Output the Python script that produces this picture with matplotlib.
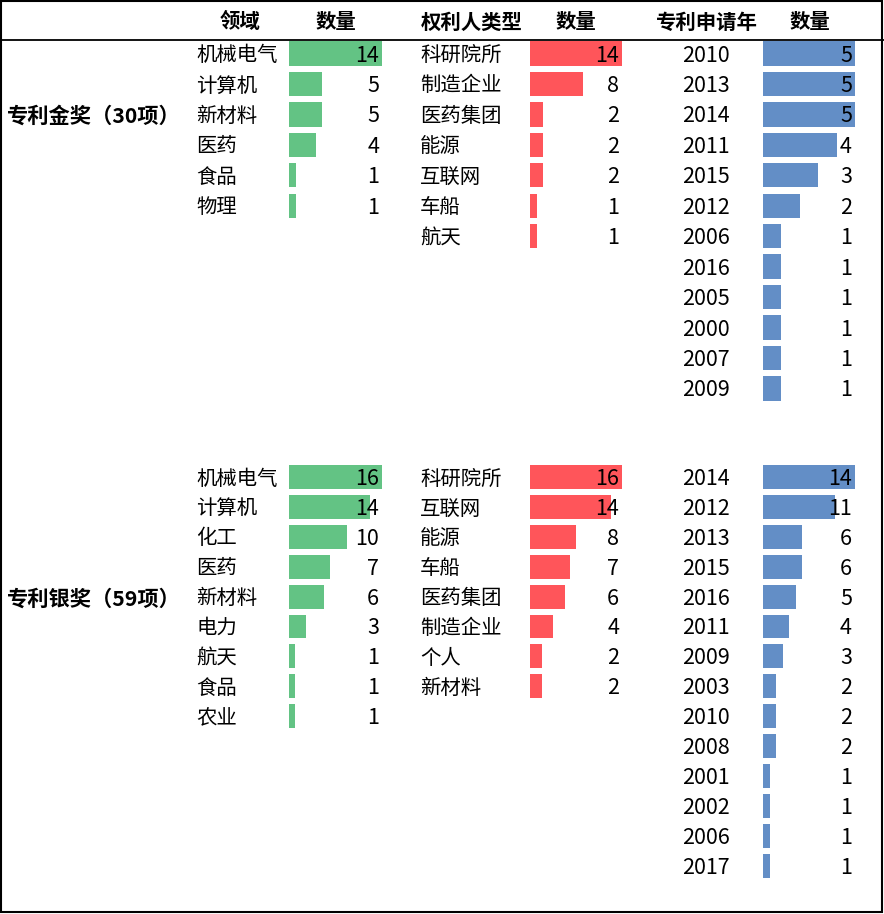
import matplotlib
matplotlib.use("Agg")
import matplotlib.pyplot as plt
from matplotlib.patches import Rectangle

plt.rcParams['font.family'] = ['Noto Sans CJK SC', 'DejaVu Sans']

# headers
headers = ["领域", "数量", "权利人类型", "数量", "专利申请年", "数量"]

# 专利金奖
gold_title = "专利金奖（30项）"
gold_field = ["机械电气", "计算机", "新材料", "医药", "食品", "物理"]
gold_field_n = [14, 5, 5, 4, 1, 1]
gold_owner = ["科研院所", "制造企业", "医药集团", "能源", "互联网", "车船", "航天"]
gold_owner_n = [14, 8, 2, 2, 2, 1, 1]
gold_year = ["2010", "2013", "2014", "2011", "2015", "2012", "2006", "2016", "2005", "2000", "2007", "2009"]
gold_year_n = [5, 5, 5, 4, 3, 2, 1, 1, 1, 1, 1, 1]

# 专利银奖
silver_title = "专利银奖（59项）"
silver_field = ["机械电气", "计算机", "化工", "医药", "新材料", "电力", "航天", "食品", "农业"]
silver_field_n = [16, 14, 10, 7, 6, 3, 1, 1, 1]
silver_owner = ["科研院所", "互联网", "能源", "车船", "医药集团", "制造企业", "个人", "新材料"]
silver_owner_n = [16, 14, 8, 7, 6, 4, 2, 2]
silver_year = ["2014", "2012", "2013", "2015", "2016", "2011", "2009", "2003", "2010", "2008", "2001", "2002", "2006", "2017"]
silver_year_n = [14, 11, 6, 6, 5, 4, 3, 2, 2, 2, 1, 1, 1, 1]

GREEN = "#63C384"
RED = "#FF555A"
BLUE = "#638EC6"

W, H = 884, 914
FS = 14.7      # chinese labels / headers
FS_NUM = 15.5  # digits
DY = 2         # text nudge downwards (px)

fig = plt.figure(figsize=(W / 100, H / 100), dpi=100)
bg = fig.add_axes([0, 0, 1, 1])
bg.set_xlim(0, W)
bg.set_ylim(H, 0)
bg.axis("off")

# frame and header line
bg.add_patch(Rectangle((1, 1), 881, 911, fill=False, edgecolor="black", lw=1.5))
bg.plot([0, W], [39.5, 39.5], color="black", lw=1.3)

header_x = [240, 336, 472, 576, 707, 810]
for hx, ht in zip(header_x, headers):
    bg.text(hx, 20 + DY, ht, ha="center", va="center", fontsize=FS, fontweight="bold")


def column(labels, values, label_x, bar_x, bar_w, num_x, color, y0, step):
    n = len(values)
    top = y0 - step / 2
    ax = fig.add_axes([bar_x / W, 1 - (top + n * step) / H, bar_w / W, n * step / H])
    ax.barh(range(n), values, height=0.8, color=color)
    ax.set_xlim(0, max(values))
    ax.set_ylim(n - 0.5, -0.5)
    ax.axis("off")
    for i, (lab, v) in enumerate(zip(labels, values)):
        y = y0 + i * step + DY
        fs = FS_NUM if lab.isdigit() else FS
        bg.text(label_x, y, lab, ha="left", va="center", fontsize=fs)
        bg.text(num_x, y, str(v), ha="right", va="center", fontsize=FS_NUM, zorder=5)


def section(title, title_y, field, field_n, owner, owner_n, year, year_n, y0, step):
    bg.text(7, title_y + DY, title, ha="left", va="center", fontsize=15.3, fontweight="bold")
    column(field, field_n, 196, 289, 93, 379, GREEN, y0, step)
    column(owner, owner_n, 420, 530, 92, 619, RED, y0, step)
    column(year, year_n, 682, 763, 92, 852, BLUE, y0, step)


section(gold_title, 114, gold_field, gold_field_n, gold_owner, gold_owner_n,
        gold_year, gold_year_n, 53.5, 30.45)
section(silver_title, 597, silver_field, silver_field_n, silver_owner, silver_owner_n,
        silver_year, silver_year_n, 477, 29.9)

# keep text above the bar axes
bg.set_zorder(3)
bg.patch.set_visible(False)

fig.savefig("out.png", dpi=100)
